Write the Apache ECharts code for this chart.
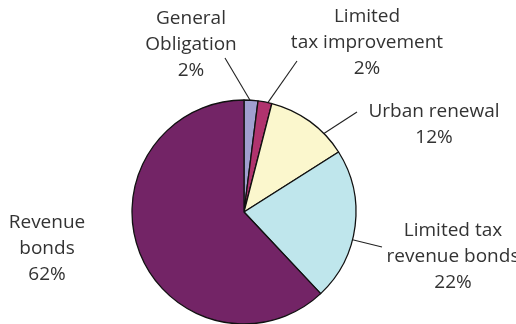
<!DOCTYPE html>
<html>
<head>
<meta charset="utf-8">
<script src="https://cdn.jsdelivr.net/npm/echarts@6/dist/echarts.min.js"></script>
<style>
  html, body { margin: 0; padding: 0; background: #fff; }
  #chart { width: 516px; height: 324px; }
</style>
</head>
<body>
<div id="chart"></div>
<script>
// Debt by type (share of total, %)
const categories = [
  'General\nObligation',
  'Limited\ntax improvement',
  'Urban renewal',
  'Limited tax\nrevenue bonds',
  'Revenue\nbonds'
];
const shares = [2, 2, 12, 22, 62];
const colors = ['#a09fd0', '#b0336e', '#fbf7cd', '#bfe6ec', '#732466'];

// Pie geometry (pixels)
const CX = 244, CY = 212, R = 112;

// Where each label block sits, where its leader line ends, and the point
// along its slice (0..1) where the leader line touches the rim.
const labelSpots = [
  { x: 191, y: 45,  end: [225, 58],  along: 0.43 },
  { x: 367, y: 43,  end: [297, 61],  along: 0.71 },
  { x: 434, y: 125, end: [357, 112], along: 0.72 },
  { x: 453, y: 257, end: [382, 247], along: 0.59 },
  { x: 47,  y: 249, end: null,       along: 0.5 }
];

const total = shares.reduce((a, b) => a + b, 0);
const startFrac = [];
shares.reduce((acc, v) => { startFrac.push(acc); return acc + v; }, 0);

function rimPoint(i) {
  const frac = (startFrac[i] + shares[i] * labelSpots[i].along) / total;
  const ang = frac * Math.PI * 2; // clockwise from 12 o'clock
  return [CX + R * Math.sin(ang), CY - R * Math.cos(ang)];
}

const chart = echarts.init(document.getElementById('chart'), null, { renderer: 'canvas' });

chart.setOption({
  backgroundColor: '#ffffff',
  animation: false,
  series: [{
    type: 'pie',
    center: [CX, CY],
    radius: R,
    startAngle: 90,
    clockwise: true,
    avoidLabelOverlap: false,
    data: categories.map((name, i) => ({
      name: name,
      value: shares[i],
      itemStyle: { color: colors[i] },
      labelLine: { show: labelSpots[i].end !== null }
    })),
    itemStyle: { borderColor: '#111', borderWidth: 1.3 },
    label: {
      show: true,
      position: 'outside',
      formatter: p => p.name + '\n' + p.value + '%',
      fontFamily: '"Open Sans", "Noto Sans", sans-serif',
      fontSize: 19,
      lineHeight: 26,
      color: '#333333',
      align: 'center'
    },
    labelLine: {
      show: true,
      length: 10,
      length2: 0,
      lineStyle: { color: '#222', width: 1.1 }
    },
    labelLayout: function (params) {
      const i = params.dataIndex;
      const s = labelSpots[i];
      const out = { x: s.x, y: s.y, align: 'center', verticalAlign: 'middle' };
      if (s.end) {
        const a = rimPoint(i);
        out.labelLinePoints = [a, s.end, s.end];
      }
      return out;
    },
    emphasis: { disabled: true }
  }]
});
</script>
</body>
</html>
